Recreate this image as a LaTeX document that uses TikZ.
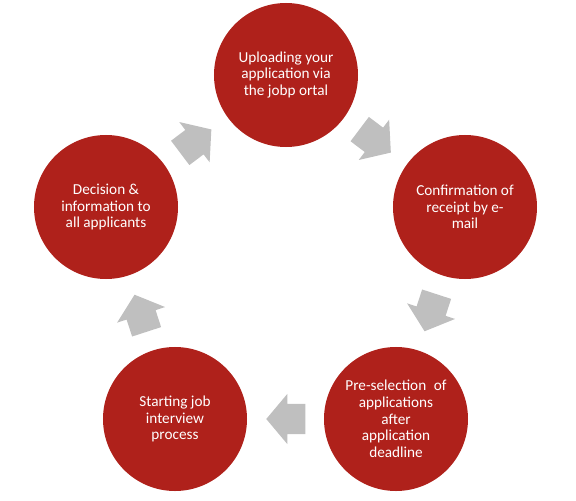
\documentclass[tikz,border=0pt]{standalone}
\usepackage{fontspec}
\setmainfont{Carlito}
\usetikzlibrary{shapes.arrows,calc}
\definecolor{stepred}{RGB}{175,33,27}
\definecolor{flowgray}{RGB}{191,191,191}

\begin{document}
\begin{tikzpicture}[x=0.03cm,y=-0.03cm,
        stage/.style={circle,fill=stepred,text=white,minimum size=4.32cm,inner sep=0pt,align=center,font=\fontsize{13}{14.2}\selectfont},
        flow/.style={single arrow,fill=flowgray,inner xsep=0pt,inner ysep=0.45cm,minimum height=1.17cm,single arrow head extend=0.3cm,single arrow tip angle=100}]
        \useasboundingbox (0,0) rectangle (576,501);
        \node[stage] (c1) at (286,75) {Uploading your\\application via\\the jobp ortal};
        \node[stage] (c2) at (465,207) {Confirmation of\\receipt by e-\\mail};
        \node[stage] (c3) at (396,419) {Pre-selection\enspace of\\applications\\after\\application\\deadline};
        \node[stage] (c4) at (175,419) {Starting job\\interview\\process};
        \node[stage] (c5) at (106,207) {Decision \&\\information to\\all applicants};
        % block arrows between the stages
        \node[flow,rotate=-37,xshift=-0.2cm] (f1) at ($(c1)!0.5!(c2)$) {};
        \node[flow,rotate=252,xshift=-0.2cm] (f2) at ($(c2)!0.5!(c3)$) {};
        \node[flow,rotate=180,xshift=-0.2cm] (f3) at ($(c3)!0.5!(c4)$) {};
        \node[flow,rotate=108,xshift=-0.2cm] (f4) at ($(c4)!0.5!(c5)$) {};
        \node[flow,rotate=37,xshift=-0.2cm] (f5) at ($(c5)!0.5!(c1)$) {};
\end{tikzpicture}
\end{document}
